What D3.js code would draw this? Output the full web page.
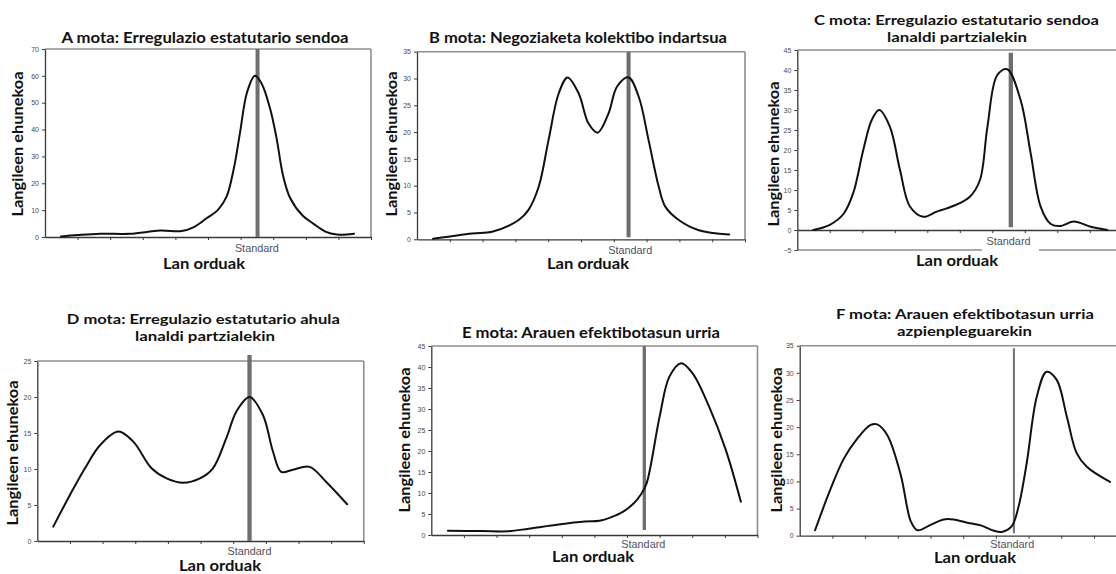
<!DOCTYPE html>
<html><head><meta charset="utf-8">
<script src="https://cdn.jsdelivr.net/npm/d3@7"></script>
<style>body{margin:0;background:#fff} svg{display:block}</style>
</head><body><svg id="c" width="1116" height="574"></svg>
<script>
// ---- data ----
const categories = ["", "", "", "", "", "", "Standard", "", "", ""]; // working-hour bins
const titles = [
  ["A mota: Erregulazio estatutario sendoa"],
  ["B mota: Negoziaketa kolektibo indartsua"],
  ["C mota: Erregulazio estatutario sendoa", "lanaldi partzialekin"],
  ["D mota: Erregulazio estatutario ahula", "lanaldi partzialekin"],
  ["E mota: Arauen efektibotasun urria"],
  ["F mota: Arauen efektibotasun urria", "azpienpleguarekin"]
];
const yLabel = "Langileen ehunekoa";
const xLabel = "Lan orduak";
const yDomains = [[0, 70], [0, 35], [-5, 45], [0, 25], [0, 45], [0, 35]];
const yTickStep = [10, 5, 5, 5, 5, 5];

// hour position (in category units) and share of workers (%)
const hoursA = [0.49, 1.0, 1.69, 2.61, 3.53, 4.19, 4.55, 4.96, 5.3, 5.57, 5.8, 5.98, 6.2, 6.44, 6.65, 6.9, 7.1, 7.3, 7.52, 7.9, 8.23, 8.6, 8.95, 9.48];
const shareA = [0.2, 0.7, 1.2, 1.2, 2.4, 2.2, 3.6, 7, 10, 15, 26, 38.7, 54, 60, 57, 48, 37, 23, 14.5, 8, 5, 2, 0.9, 1.2];
const hoursB = [0.49, 1.68, 2.29, 3.1, 3.4, 3.71, 4.01, 4.32, 4.59, 4.93, 5.23, 5.51, 5.84, 6.1, 6.45, 6.76, 7.06, 7.37, 7.57, 7.98, 8.59, 9.52];
const shareB = [0.1, 1.1, 1.4, 3.6, 5.5, 9.8, 18.5, 27.2, 30.2, 27.2, 21.6, 19.9, 23.5, 28.5, 30.2, 26.6, 18.5, 9.8, 6.1, 3.6, 1.7, 0.9];
const hoursC = [0.49, 1.0, 1.42, 1.72, 2.03, 2.29, 2.52, 2.85, 3.16, 3.47, 3.88, 4.29, 4.6, 5.0, 5.31, 5.62, 5.85, 6.15, 6.46, 6.87, 7.18, 7.49, 7.8, 8.1, 8.51, 9.03, 9.54];
const shareC = [0, 1.3, 4, 9.2, 20, 27.5, 30, 25.8, 15, 5.8, 3.3, 4.6, 5.4, 6.7, 8.3, 12.5, 25.8, 38.7, 40.2, 32.5, 19.2, 5.8, 1.5, 1.0, 2.1, 0.8, 0];
const hoursD = [0.49, 1.0, 1.46, 1.92, 2.48, 2.94, 3.5, 3.96, 4.47, 4.98, 5.38, 5.79, 6.1, 6.5, 6.91, 7.22, 7.47, 7.83, 8.34, 8.85, 9.49];
const shareD = [2, 6.4, 10.1, 13.3, 15.2, 13.8, 10.1, 8.7, 8.1, 8.7, 10.1, 14.3, 18, 20, 17.5, 12.4, 9.6, 9.9, 10.3, 8.2, 5.1];
const hoursE = [0.51, 1.55, 2.37, 2.98, 3.9, 4.71, 5.16, 5.5, 5.87, 6.2, 6.43, 6.6, 7.0, 7.3, 7.66, 8.01, 8.52, 9.03, 9.49];
const shareE = [1, 0.95, 0.9, 1.5, 2.5, 3.2, 3.4, 4.2, 5.5, 7.5, 9.7, 12.3, 28.2, 37.7, 40.9, 38.5, 30.5, 20.2, 7.9];
const hoursF = [0.47, 0.95, 1.35, 1.76, 2.17, 2.37, 2.68, 3.09, 3.4, 3.6, 4.0, 4.4, 4.7, 5.2, 5.54, 5.94, 6.18, 6.48, 6.69, 6.94, 7.25, 7.55, 7.86, 8.17, 8.47, 8.78, 9.49];
const shareF = [1, 8.7, 14.2, 17.9, 20.4, 20.5, 18.5, 11.2, 2.6, 1.0, 2.0, 3.0, 3.0, 2.3, 1.9, 0.9, 0.7, 1.7, 5.3, 13.3, 25.6, 30.2, 28.7, 21.9, 15.2, 12.7, 9.9];
const series = [[hoursA, shareA], [hoursB, shareB], [hoursC, shareC], [hoursD, shareD], [hoursE, shareE], [hoursF, shareF]];

// ---- layout (positions / styles) ----
const layout = [
  {left: 45, width: 326, top: 49, bottom: 237, rightBorder: true, titleX: [205], titleY: [42.7], titleW: [287], ylabX: 23, ylabY: 144, xlabX: 204, xlabY: 268.5, stdY: 252, std: 6.52, stdW: 4, stdTop: 49, stdBot: 237},
  {left: 417, width: 328, top: 51.7, bottom: 239.3, rightBorder: true, titleX: [578], titleY: [42.7], titleW: [298], ylabX: 396.5, ylabY: 144, xlabX: 588, xlabY: 269, stdY: 253.5, std: 6.45, stdW: 4, stdTop: 51.7, stdBot: 237.3},
  {left: 797.3, width: 325, top: 50, bottom: 250, rightBorder: false, titleX: [956.5, 957], titleY: [25, 41.5], titleW: [285, 140], ylabX: 778.5, ylabY: 154, xlabX: 957, xlabY: 266, stdY: 245, std: 6.57, stdW: 4.3, stdTop: 52.7, stdBot: 227.3, gap: [982, 1039]},
  {left: 37.3, width: 326.5, top: 361, bottom: 541, rightBorder: true, titleX: [203.3, 205], titleY: [324, 340.5], titleW: [273, 140], ylabX: 18, ylabY: 453, xlabX: 220, xlabY: 571, stdY: 555, std: 6.5, stdW: 4.3, stdTop: 355, stdBot: 541},
  {left: 431.3, width: 326.2, top: 346, bottom: 535, rightBorder: true, titleX: [591], titleY: [337.7], titleW: [258], ylabX: 409.5, ylabY: 440, xlabX: 593, xlabY: 561.5, stdY: 548.3, std: 6.53, stdW: 3.3, stdTop: 346, stdBot: 530},
  {left: 799.7, width: 327, top: 345.7, bottom: 535.7, rightBorder: false, titleX: [965, 964.5], titleY: [319, 335.5], titleW: [258, 135], ylabX: 781.5, ylabY: 440, xlabX: 975, xlabY: 563, stdY: 548.3, std: 6.55, stdW: 2, stdTop: 348.3, stdBot: 533.3}
];

const svg = d3.select("#c");
const W = 1116;
const boldFont = "Lato, 'Open Sans', sans-serif";
const smallFont = "'Liberation Sans', Arial, sans-serif";

series.forEach(([hours, share], i) => {
  const L = layout[i];
  const x = d3.scaleLinear().domain([0, categories.length]).range([L.left, L.left + L.width]);
  const y = d3.scaleLinear().domain(yDomains[i]).range([L.bottom, L.top]);
  const g = svg.append("g");
  const right = Math.min(L.left + L.width, W);

  // frame
  g.append("line").attr("x1", L.left).attr("x2", right).attr("y1", L.top).attr("y2", L.top)
    .attr("stroke", "#8f8f8f").attr("stroke-width", 1.6);
  if (L.rightBorder) {
    g.append("line").attr("x1", right).attr("x2", right).attr("y1", L.top).attr("y2", L.bottom)
      .attr("stroke", "#8f8f8f").attr("stroke-width", 1.6);
  }
  if (yDomains[i][0] < 0) {
    const yb = y(yDomains[i][0]);
    const segs = L.gap ? [[L.left, L.gap[0]], [L.gap[1], right]] : [[L.left, right]];
    segs.forEach(s => g.append("line").attr("x1", s[0]).attr("x2", s[1]).attr("y1", yb).attr("y2", yb)
      .attr("stroke", "#8f8f8f").attr("stroke-width", 1.6));
  }

  // y axis
  const ticks = d3.range(yDomains[i][0], yDomains[i][1] + 0.001, yTickStep[i]);
  const yAxis = d3.axisLeft(y).tickValues(ticks).tickSize(3).tickSizeOuter(0).tickPadding(3).tickFormat(d3.format("d"));
  const ya = g.append("g").attr("transform", `translate(${L.left},0)`).call(yAxis);
  ya.select(".domain").attr("stroke", "#3a3a3a").attr("stroke-width", 1.3);
  ya.selectAll(".tick line").attr("stroke", "#3a3a3a");
  ya.selectAll(".tick text").attr("font-family", smallFont).attr("font-size", 7).attr("fill", "#4a4a4a");

  // x axis
  const xAxis = d3.axisBottom(x).tickValues(d3.range(1, categories.length + 1)).tickSize(3).tickSizeOuter(0).tickFormat("");
  const xa = g.append("g").attr("transform", `translate(0,${y(0)})`).call(xAxis);
  xa.select(".domain").attr("stroke", "#3a3a3a").attr("stroke-width", 1.3);
  xa.selectAll(".tick line").attr("stroke", "#3a3a3a");

  // category labels
  g.selectAll("text.cat").data(categories.map((c, k) => ({c, k})).filter(d => d.c)).join("text")
    .attr("class", "cat").attr("x", d => x(d.k + 0.5)).attr("y", L.stdY)
    .attr("text-anchor", "middle").attr("font-family", smallFont).attr("font-size", 10.5)
    .attr("fill", "#505060").attr("textLength", 44).attr("lengthAdjust", "spacingAndGlyphs")
    .text(d => d.c);

  // standard reference line
  g.append("line").attr("x1", x(L.std)).attr("x2", x(L.std)).attr("y1", L.stdTop).attr("y2", L.stdBot)
    .attr("stroke", "#6e6e6e").attr("stroke-width", L.stdW);

  // distribution curve
  const pts = hours.map((h, k) => [h, share[k]]);
  const line = d3.line().x(d => x(d[0])).y(d => y(d[1])).curve(d3.curveCatmullRom.alpha(0.5));
  g.append("path").attr("d", line(pts)).attr("fill", "none").attr("stroke", "#111")
    .attr("stroke-width", 2).attr("stroke-linejoin", "round").attr("stroke-linecap", "round");

  // title
  const tSize = titles[i].length > 1 ? 13.5 : 14.5;
  titles[i].forEach((t, k) => {
    g.append("text").attr("x", L.titleX[k]).attr("y", L.titleY[k]).attr("text-anchor", "middle")
      .attr("font-family", boldFont).attr("font-weight", 700).attr("font-size", tSize).attr("fill", "#111")
      .attr("textLength", L.titleW[k]).attr("lengthAdjust", "spacingAndGlyphs").text(t);
  });

  // axis titles
  g.append("text").attr("transform", `translate(${L.ylabX},${L.ylabY}) rotate(-90)`).attr("text-anchor", "middle")
    .attr("font-family", boldFont).attr("font-weight", 700).attr("font-size", 14.5).attr("fill", "#111")
    .attr("textLength", 145).attr("lengthAdjust", "spacingAndGlyphs").text(yLabel);
  g.append("text").attr("x", L.xlabX).attr("y", L.xlabY).attr("text-anchor", "middle")
    .attr("font-family", boldFont).attr("font-weight", 700).attr("font-size", 14.5).attr("fill", "#111")
    .attr("textLength", 82).attr("lengthAdjust", "spacingAndGlyphs").text(xLabel);
});
</script></body></html>
